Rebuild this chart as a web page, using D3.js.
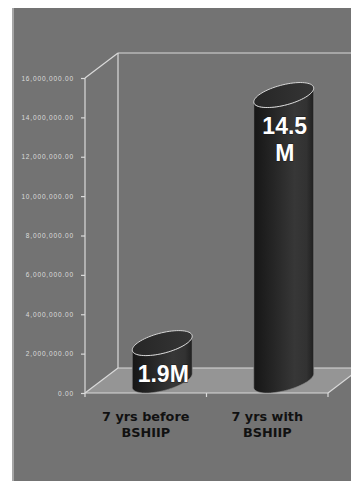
<!DOCTYPE html>
<html>
<head>
<meta charset="utf-8">
<script src="https://cdn.jsdelivr.net/npm/d3@7"></script>
<style>
  html, body { margin: 0; padding: 0; background: #ffffff; }
  svg { display: block; }
</style>
</head>
<body>
<svg id="chart" width="351" height="483"></svg>
<script>
// Category names (one entry per bar, split into display lines)
const categories = [["7 yrs before", "BSHIIP"], ["7 yrs with", "BSHIIP"]];
// Amounts for each period
const values = [1900000, 14500000];
// Text printed on each cylinder
const valueLabels = [["1.9M"], ["14.5", "M"]];
// Value-axis ticks
const tickValues = [0, 2000000, 4000000, 6000000, 8000000, 10000000, 12000000, 14000000, 16000000];

const svg = d3.select("#chart");

// Front face of the 3D plot box and the oblique depth offset
const plot = { left: 85, right: 328, top: 78, bottom: 393 };
const depth = { dx: 33, dy: 25 };

const x = d3.scaleBand()
  .domain(d3.range(categories.length))
  .range([plot.left, plot.right])
  .padding(0);

const y = d3.scaleLinear()
  .domain([0, d3.max(tickValues)])
  .range([plot.bottom, plot.top]);

const lineColor = "#dadada";

// Gray chart panel
svg.append("rect")
  .attr("x", 12).attr("y", 8).attr("width", 339).attr("height", 473)
  .attr("fill", "#737373");
svg.append("rect")
  .attr("x", 12).attr("y", 8).attr("width", 2).attr("height", 473)
  .attr("fill", "#a6a6a6");

const defs = svg.append("defs");
const grad = defs.append("linearGradient")
  .attr("id", "cylBody").attr("x1", 0).attr("x2", 1).attr("y1", 0).attr("y2", 0);
[[0, "#161616"], [0.3, "#242424"], [0.68, "#373737"], [0.88, "#323232"], [1, "#1f1f1f"]]
  .forEach(([o, c]) => grad.append("stop").attr("offset", o).attr("stop-color", c));
const gradTop = defs.append("linearGradient")
  .attr("id", "cylTop").attr("x1", 0).attr("x2", 1).attr("y1", 0).attr("y2", 0);
[[0, "#262626"], [1, "#353535"]]
  .forEach(([o, c]) => gradTop.append("stop").attr("offset", o).attr("stop-color", c));

const y0 = y(0);
const yTop = y(d3.max(tickValues));
const bx = plot.left + depth.dx, by = y0 - depth.dy;

// Floor of the plot box
svg.append("polygon")
  .attr("points", [
    [plot.left, y0], [plot.right, y0],
    [plot.right + depth.dx, by], [bx, by]
  ].map(p => p.join(",")).join(" "))
  .attr("fill", "#959595");

// Box edges
const edges = [
  [[plot.left, yTop], [plot.left, y0]],
  [[plot.left, yTop], [bx, yTop - depth.dy]],
  [[bx, yTop - depth.dy], [bx, by]],
  [[bx, yTop - depth.dy], [plot.right + depth.dx, yTop - depth.dy]],
  [[bx, by], [plot.right + depth.dx, by]],
  [[plot.left, y0], [bx, by]],
  [[plot.left, y0], [plot.right, y0]],
  [[plot.right, y0], [plot.right + depth.dx, by]]
];
svg.append("g").selectAll("line").data(edges).join("line")
  .attr("x1", d => d[0][0]).attr("y1", d => d[0][1])
  .attr("x2", d => d[1][0]).attr("y2", d => d[1][1])
  .attr("stroke", lineColor).attr("stroke-width", 1.2);

// Category tick marks at band boundaries
const bounds = x.domain().map(i => x(i)).concat([plot.right]);
svg.append("g").selectAll("line").data(bounds).join("line")
  .attr("x1", d => d).attr("x2", d => d)
  .attr("y1", y0).attr("y2", y0 + 4)
  .attr("stroke", lineColor).attr("stroke-width", 1.2);

// Value axis
const yAxis = d3.axisLeft(y)
  .tickValues(tickValues)
  .tickFormat(d3.format(",.2f"))
  .tickSize(4)
  .tickPadding(7);
const gy = svg.append("g")
  .attr("transform", `translate(${plot.left},0)`)
  .call(yAxis);
gy.select(".domain").remove();
gy.selectAll(".tick line").attr("stroke", lineColor).attr("stroke-width", 1.2);
gy.selectAll(".tick text")
  .attr("fill", "#dcdcdc")
  .style("font-family", "'Liberation Sans', Arial, sans-serif")
  .style("font-size", "6.5px")
  .style("letter-spacing", "0.85px");

// Cylinders
const bw = x.bandwidth();
const a = bw * 0.206;          // horizontal radius
const b = depth.dx / 2;        // depth radius, projected horizontally
const c = depth.dy / 2;        // depth radius, projected vertically
const thetaR = Math.atan2(b, a);

const ellPt = (cx, cy, t) => [cx + a * Math.cos(t) + b * Math.sin(t), cy - c * Math.sin(t)];
const arc = (cx, cy, t0, t1, n = 48) =>
  d3.range(n + 1).map(k => ellPt(cx, cy, t0 + (t1 - t0) * k / n));
const line = d3.line();

const bars = svg.append("g");
values.forEach((v, i) => {
  const cx = x(i) + bw / 2 + depth.dx / 2;
  const cyBase = y(0) - depth.dy / 2;
  const cyTop = y(v) - depth.dy / 2;

  // body: front arc of bottom ellipse, then front arc of top ellipse in reverse
  const bottomFront = arc(cx, cyBase, thetaR + Math.PI, thetaR + 2 * Math.PI);
  const topFront = arc(cx, cyTop, thetaR + 2 * Math.PI, thetaR + Math.PI);
  bars.append("path")
    .attr("d", line(bottomFront.concat(topFront)) + "Z")
    .attr("fill", "url(#cylBody)")
    .attr("stroke", "#8a8a8a")
    .attr("stroke-width", 0.6);

  // top cap
  bars.append("path")
    .attr("d", line(arc(cx, cyTop, 0, 2 * Math.PI, 72)) + "Z")
    .attr("fill", "url(#cylTop)")
    .attr("stroke", "#d6d6d6")
    .attr("stroke-width", 1);

  // value text
  const t = bars.append("text")
    .attr("text-anchor", "middle")
    .attr("fill", "#ffffff")
    .attr("stroke", "#1a1a1a")
    .attr("stroke-width", 0.8)
    .attr("paint-order", "stroke")
    .style("font-family", "'Liberation Sans', Arial, sans-serif")
    .style("font-weight", "bold")
    .style("font-size", "23px");
  valueLabels[i].forEach((s, k) => {
    t.append("tspan")
      .attr("x", cx + 1)
      .attr("y", cyTop + 39 + k * 27)
      .text(s);
  });
});

// Category labels
const cl = svg.append("g");
categories.forEach((lines, i) => {
  const t = cl.append("text")
    .attr("text-anchor", "middle")
    .attr("fill", "#111111")
    .style("font-family", "'DejaVu Sans', Verdana, sans-serif")
    .style("font-weight", "bold")
    .style("font-size", "12.8px");
  lines.forEach((s, k) => {
    t.append("tspan")
      .attr("x", x(i) + bw / 2)
      .attr("y", 421 + k * 16)
      .text(s);
  });
});
</script>
</body>
</html>
